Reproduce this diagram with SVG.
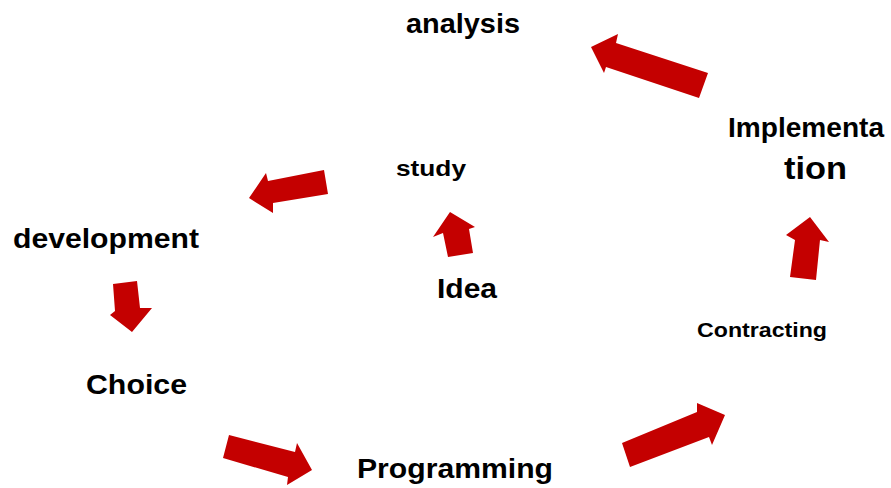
<svg xmlns="http://www.w3.org/2000/svg" width="891" height="488" viewBox="0 0 891 488">
  <style>
    .lbl { font-family: "Liberation Sans", Arial, sans-serif; font-weight: bold; fill: #000; }
    .arrow { fill: #c40000; }
  </style>
  <rect width="891" height="488" fill="#fff"/>

  <!-- block arrows between the stages -->
  <g id="connectors">
    <polygon class="arrow" points="591,47 618,34 616,43 708,73 699,98 606,67 604,73"/>
    <polygon class="arrow" points="249,198 266,173 268,181 324,170 328,194 273,203 273,213"/>
    <polygon class="arrow" points="450,212 475,227 469,229 473,253 448,257 443,233 433,237"/>
    <polygon class="arrow" points="113,284 137,281 140,308 152,308 132,332 110,315 115,311"/>
    <polygon class="arrow" points="229,435 295,452 297,443 312,470 287,485 288,477 223,458"/>
    <polygon class="arrow" points="630,467 622,443 697,412 697,403 725,415 712,445 709,437"/>
    <polygon class="arrow" points="810,217 829,242 820,240 816,280 790,277 795,240 786,235"/>
  </g>

  <g id="analysis"><text class="lbl" x="406" y="33" font-size="28" textLength="114" lengthAdjust="spacingAndGlyphs">analysis</text></g>
  <g id="implementation">
    <text class="lbl" x="728" y="137" font-size="28" textLength="156" lengthAdjust="spacingAndGlyphs">Implementa</text>
    <text class="lbl" x="784" y="179" font-size="32" textLength="63" lengthAdjust="spacingAndGlyphs">tion</text>
  </g>
  <g id="study"><text class="lbl" x="396" y="176" font-size="22" textLength="70" lengthAdjust="spacingAndGlyphs">study</text></g>
  <g id="development"><text class="lbl" x="13" y="248" font-size="27" textLength="186" lengthAdjust="spacingAndGlyphs">development</text></g>
  <g id="idea"><text class="lbl" x="437" y="298" font-size="28" textLength="60" lengthAdjust="spacingAndGlyphs">Idea</text></g>
  <g id="contracting"><text class="lbl" x="697" y="337" font-size="20" textLength="130" lengthAdjust="spacingAndGlyphs">Contracting</text></g>
  <g id="choice"><text class="lbl" x="86" y="394" font-size="27" textLength="101" lengthAdjust="spacingAndGlyphs">Choice</text></g>
  <g id="programming"><text class="lbl" x="357" y="478" font-size="27" textLength="196" lengthAdjust="spacingAndGlyphs">Programming</text></g>
</svg>
